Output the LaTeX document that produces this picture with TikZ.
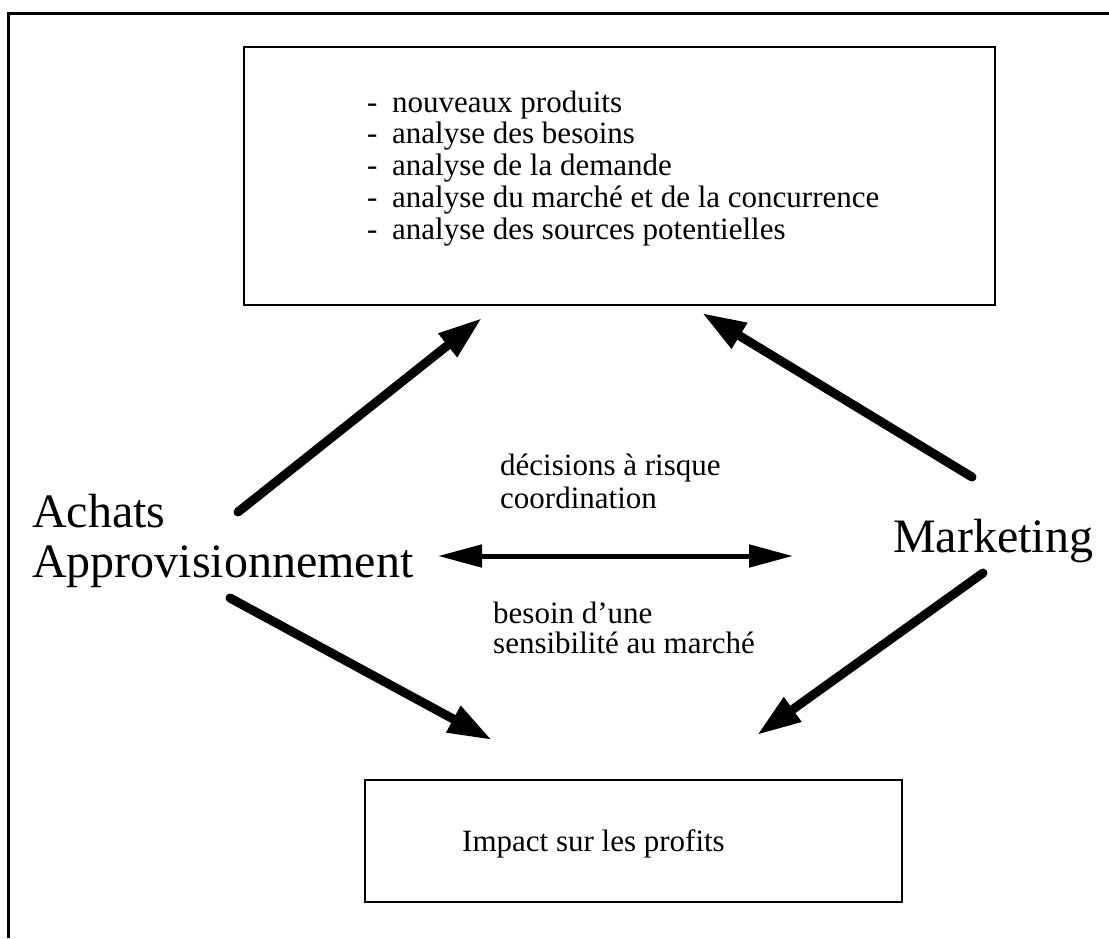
\documentclass[tikz,border=0pt]{standalone}
\usepackage{fontspec}
\setmainfont{Liberation Serif}
\usetikzlibrary{arrows.meta}
\begin{document}
\begin{tikzpicture}[x=1pt,y=-1pt,
  boxstyle/.style={draw,line width=2.6pt,inner sep=0pt},
  txt/.style={anchor=base west,inner sep=0pt,font=\fontsize{31}{33}\selectfont},
  big/.style={anchor=base west,inner sep=0pt,font=\fontsize{48}{50}\selectfont},
  diagarrow/.style={line width=9pt,line cap=round,-{Triangle[length=44pt,width=28pt]}},
  horarrow/.style={line width=5pt,{Triangle[length=44pt,width=22pt]}-{Triangle[length=44pt,width=22pt]}}
]
\useasboundingbox (0,0) rectangle (1109,938);
% outer frame (open at right and bottom)
\draw[line width=3pt] (8,938) -- (8,13) -- (1109,13);

% boxes
\node[boxstyle,minimum width=751pt,minimum height=258pt] (top) at (619.5,176) {};
\node[boxstyle,minimum width=537pt,minimum height=122pt] (bottom) at (633.5,841) {};

% list in top box
\node[txt] (d1) at (367,112) {-};
\node[txt] (l1) at (392,112) {nouveaux produits};
\node[txt] (d2) at (367,143.5) {-};
\node[txt] (l2) at (392,143.5) {analyse des besoins};
\node[txt] (d3) at (367,175) {-};
\node[txt] (l3) at (392,175) {analyse de la demande};
\node[txt] (d4) at (367,207) {-};
\node[txt] (l4) at (392,207) {analyse du marché et de la concurrence};
\node[txt] (d5) at (367,239) {-};
\node[txt] (l5) at (392,239) {analyse des sources potentielles};

% bottom box text
\node[txt] (impact) at (462,851) {Impact sur les profits};

% side labels
\node[big] (achats) at (32,527) {Achats};
\node[big] (appro) at (32,577) {Approvisionnement};
\node[big] (mkt) at (893,552) {Marketing};

% middle labels
\node[txt] (dec) at (500,475) {décisions à risque};
\node[txt] (coord) at (500,508) {coordination};
\node[txt] (bes) at (493,623) {besoin d'une};
\node[txt] (sens) at (493,653) {sensibilité au marché};

% arrow end points
\coordinate (luT) at (238,512);
\coordinate (luH) at (482,318);
\coordinate (ruT) at (972,477);
\coordinate (ruH) at (702,313);
\coordinate (hL) at (438,556);
\coordinate (hR) at (793,556);
\coordinate (ldT) at (230,598);
\coordinate (ldH) at (492,740);
\coordinate (rdT) at (983,573);
\coordinate (rdH) at (757,735);

\draw[diagarrow] (luT) -- (luH);
\draw[diagarrow] (ruT) -- (ruH);
\draw[horarrow] (hL) -- (hR);
\draw[diagarrow] (ldT) -- (ldH);
\draw[diagarrow] (rdT) -- (rdH);
\end{tikzpicture}
\end{document}
